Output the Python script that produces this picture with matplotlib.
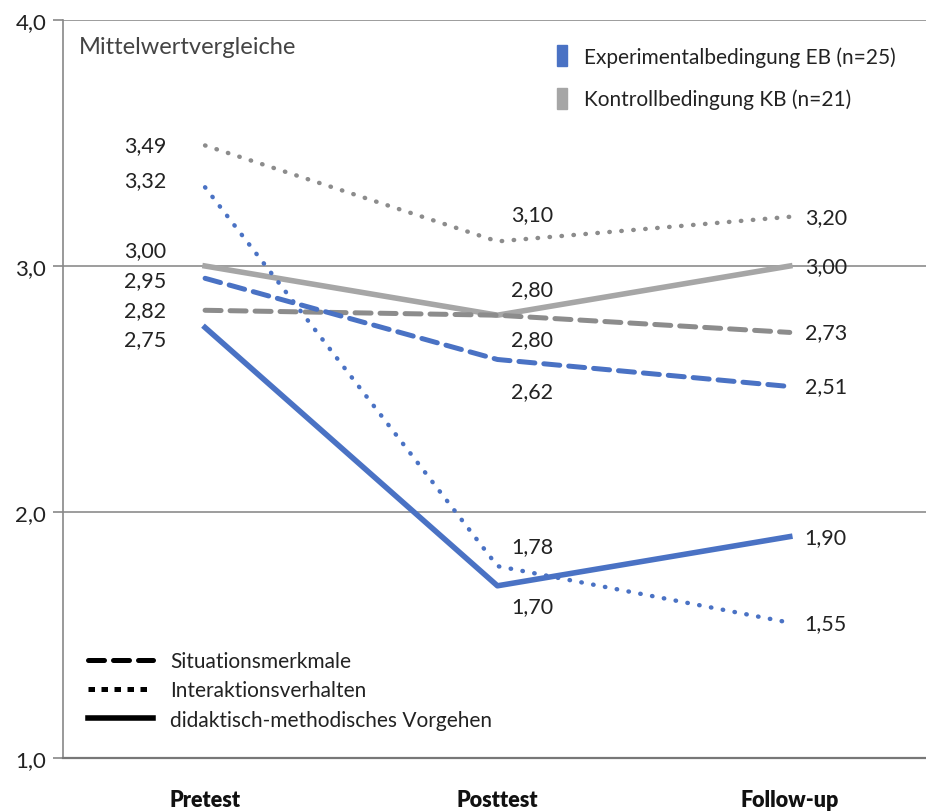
import matplotlib
matplotlib.use('Agg')
import matplotlib.pyplot as plt
from matplotlib.lines import Line2D
from matplotlib.patches import Patch

plt.rcParams['font.family'] = ['Lato', 'DejaVu Sans']

phases = ['Pretest', 'Posttest', 'Follow-up']

# Experimentalbedingung EB
eb_situation = [2.95, 2.62, 2.51]
eb_interaktion = [3.32, 1.78, 1.55]
eb_didaktik = [2.75, 1.70, 1.90]

# Kontrollbedingung KB
kb_situation = [2.82, 2.80, 2.73]
kb_interaktion = [3.49, 3.10, 3.20]
kb_didaktik = [3.00, 2.80, 3.00]

yticks = [1.0, 2.0, 3.0, 4.0]
ytick_labels = ['1,0', '2,0', '3,0', '4,0']

blue = '#4a72c4'
grey_light = '#a6a6a6'
grey_dark = '#8c8c8c'

# series: values, colour, linestyle, vertical label offsets (pixels) per phase
series = [
    (kb_interaktion, grey_dark, 'dotted', [0, 27, 0]),
    (kb_didaktik, grey_light, 'solid', [16, 26, 0]),
    (kb_situation, grey_dark, 'dashed', [0, -24, 0]),
    (eb_interaktion, blue, 'dotted', [7, 20, 0]),
    (eb_situation, blue, 'dashed', [-2, -32, 0]),
    (eb_didaktik, blue, 'solid', [-12, -20, 0]),
]

fig = plt.figure(figsize=(9.26, 8.12), dpi=100)
ax = fig.add_axes([63 / 926, 1 - 759 / 812, 1 - 63 / 926, (759 - 21) / 812])

x = list(range(len(phases)))
for vals, col, ls, offs in series:
    if ls == 'dotted':
        ax.plot(x, vals, color=col, lw=3.2, linestyle=(0, (0.1, 2.6)),
                dash_capstyle='round', zorder=3)
    elif ls == 'dashed':
        ax.plot(x, vals, color=col, lw=3.6, linestyle=(0, (3.2, 1.8)),
                dash_capstyle='round', zorder=3)
    else:
        ax.plot(x, vals, color=col, lw=4.0, zorder=3)
    for i, v in enumerate(vals):
        lab = f'{v:.2f}'.replace('.', ',')
        if i == 0:
            dx, ha = -60, 'center'
        elif i == 1:
            dx, ha = 35, 'center'
        else:
            dx, ha = 15, 'left'
        ax.annotate(lab, (i, v), xytext=(dx, offs[i]), textcoords='offset pixels',
                    ha=ha, va='center', fontsize=15.5, color='#222222')

ax.set_xlim(-0.486, 2.466)
ax.set_ylim(1, 4)
ax.set_yticks(yticks)
ax.set_yticklabels(ytick_labels, fontsize=16, color='#222222')
ax.set_xticks(x)
ax.set_xticklabels(phases, fontsize=15.5, fontweight='heavy', color='#111111')
ax.tick_params(axis='x', length=0, pad=22)
ax.tick_params(axis='y', length=7, color='#888888', width=1.2, pad=5)
ax.grid(axis='y', color='#8c8c8c', lw=1.2, zorder=0)
for s in ['top', 'right']:
    ax.spines[s].set_visible(False)
ax.spines['left'].set_color('#888888')
ax.spines['left'].set_linewidth(1.2)
ax.spines['bottom'].set_color('#777777')
ax.spines['bottom'].set_linewidth(1.6)

ax.text(0.018, 0.978, 'Mittelwertvergleiche', transform=ax.transAxes,
        fontsize=17, color='#444444', ha='left', va='top')

cond_handles = [Patch(facecolor=blue, edgecolor=blue),
                Patch(facecolor=grey_light, edgecolor=grey_light)]
leg1 = fig.legend(cond_handles,
                  ['Experimentalbedingung EB (n=25)', 'Kontrollbedingung KB (n=21)'],
                  loc='upper left', bbox_to_anchor=(557 / 926, 1 - 46 / 812),
                  frameon=False, fontsize=15, handlelength=0.5, handleheight=1.2,
                  handletextpad=0.8, labelspacing=1.0, borderpad=0, borderaxespad=0,
                  labelcolor='#222222')

style_handles = [Line2D([], [], color='black', lw=3.6, linestyle=(0, (3.2, 1.8)),
                        dash_capstyle='round'),
                 Line2D([], [], color='black', lw=3.6, linestyle=(0, (1.3, 1.3))),
                 Line2D([], [], color='black', lw=4.0)]
leg2 = fig.legend(style_handles,
                  ['Situationsmerkmale', 'Interaktionsverhalten', 'didaktisch-methodisches Vorgehen'],
                  loc='upper left', bbox_to_anchor=(88 / 926, 1 - 652 / 812),
                  frameon=False, fontsize=15, handlelength=3.1, handletextpad=0.85,
                  labelspacing=0.45, borderpad=0, borderaxespad=0, labelcolor='#222222')

fig.savefig('out.png', dpi=100)
